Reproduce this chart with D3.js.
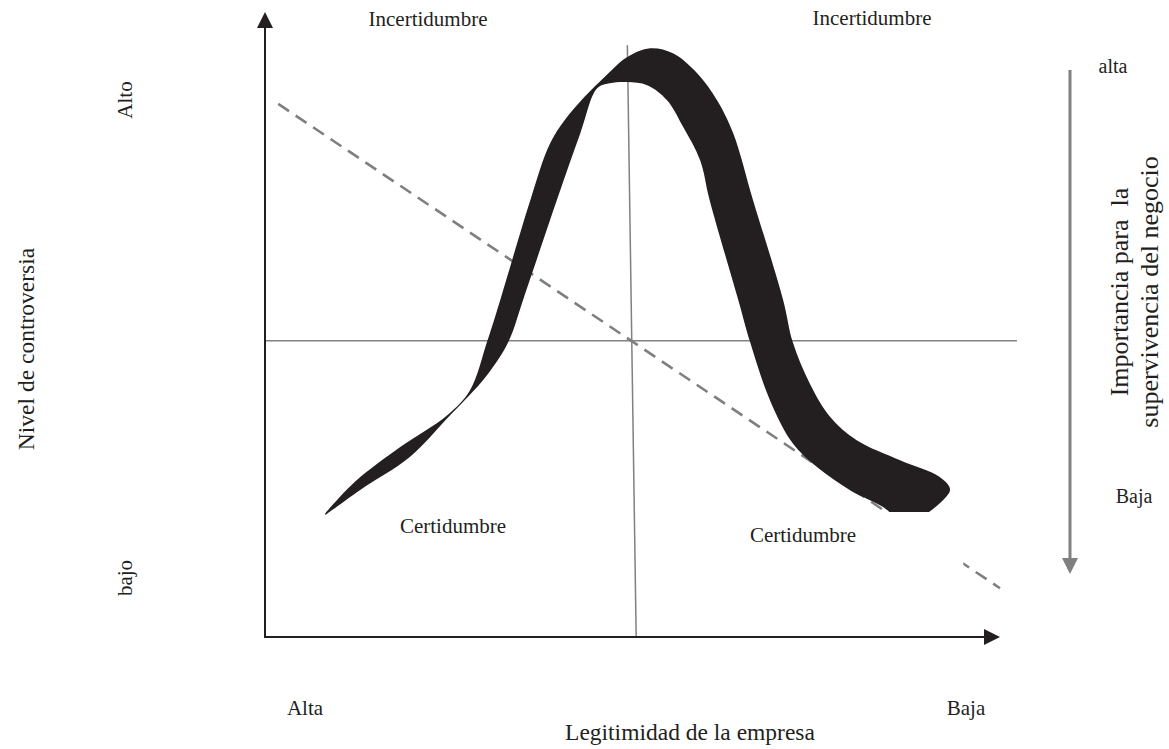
<!DOCTYPE html>
<html>
<head>
<meta charset="utf-8">
<script src="https://cdn.jsdelivr.net/npm/d3@7"></script>
<style>
  body { margin: 0; background: #fff; }
  text { font-family: "Liberation Serif", "Times New Roman", serif; fill: #231f20; }
</style>
</head>
<body>
<script>
// curve band, [legitimidad, controversia] in 0-100 units
var bandUpper = [
    [8.2, 19.8], [12.2, 24.8], [18.4, 30.4], [24.8, 35.5], [27.9, 39.5],
    [30.2, 47.2], [32.0, 53.9], [36.1, 69.9], [38.8, 79.0], [41.5, 83.8],
    [46.9, 90.4], [49.3, 92.8], [52.4, 94.2], [55.5, 93.4], [58.8, 90.2],
    [61.5, 85.9], [63.7, 80.6], [66.4, 69.9], [70.5, 53.9], [71.8, 47.2],
    [74.1, 40.6], [76.9, 35.2], [80.5, 31.5], [86.4, 28.3], [91.8, 25.6],
    [93.2, 23.5], [89.8, 19.5]
];
var bandLower = [
    [8.2, 19.5], [12.9, 23.5], [19.7, 28.8], [24.8, 35.0], [30.2, 41.9],
    [33.1, 47.2], [35.1, 53.9], [39.7, 69.9], [42.9, 80.6], [45.2, 87.8],
    [46.9, 88.6], [49.3, 88.8], [52.0, 88.3], [54.7, 85.9], [56.9, 81.6],
    [59.2, 76.3], [60.5, 69.9], [64.4, 53.9], [66.0, 47.2], [68.7, 37.9],
    [71.8, 31.0], [75.1, 27.2], [79.6, 23.5], [84.1, 20.8], [85.4, 19.5]
];
var trendLine = [[1.8, 85.3], [100, 7.8]];
var hLine = [[0, 47.4], [102.3, 47.4]];
var vLine = [[49.3, 94.7], [50.5, 0]];

var xEndLabels = ["Alta", "Baja"];
var yEndLabels = ["bajo", "Alto"];
var zoneLabels = ["Incertidumbre", "Incertidumbre", "Certidumbre", "Certidumbre"];
var importanceLabels = ["alta", "Baja"];
var importanceTitle = ["Importancia para  la", "supervivencia del negocio"];

var width = 1169, height = 749;

var svg = d3.select("body").append("svg")
    .attr("width", width)
    .attr("height", height);

var x = d3.scaleLinear().domain([0, 100]).range([265, 1000]);
var y = d3.scaleLinear().domain([0, 100]).range([637, 12]);

var line = d3.line()
    .x(function(d) { return x(d[0]); })
    .y(function(d) { return y(d[1]); });

// gray guide lines
svg.append("path").attr("d", line(hLine))
    .attr("stroke", "#808080").attr("stroke-width", 1.5).attr("fill", "none");
svg.append("path").attr("d", line(vLine))
    .attr("stroke", "#808080").attr("stroke-width", 1.5).attr("fill", "none");

// dashed trend
svg.append("path").attr("d", line(trendLine))
    .attr("stroke", "#7f7f7f").attr("stroke-width", 2.6)
    .attr("stroke-dasharray", "13,8").attr("fill", "none");

// the band
var curve = d3.line()
    .x(function(d) { return x(d[0]); })
    .y(function(d) { return y(d[1]); })
    .curve(d3.curveCatmullRom.alpha(0.5));
var up = curve(bandUpper);
var low = curve(bandLower.slice().reverse());
svg.append("path")
    .attr("d", up + "L" + low.slice(1) + "Z")
    .attr("fill", "#231f20");

// white label box (hides the line under the right "Certidumbre")
svg.append("rect")
    .attr("x", x(59.2)).attr("y", y(20))
    .attr("width", x(95) - x(59.2)).attr("height", y(10.7) - y(20))
    .attr("fill", "#fff");

// axes with arrow heads
svg.append("line")
    .attr("x1", x(0)).attr("y1", y(0)).attr("x2", x(0)).attr("y2", y(100) + 14)
    .attr("stroke", "#231f20").attr("stroke-width", 2);
svg.append("path")
    .attr("d", "M" + x(0) + "," + y(100) + "l-8,16h16z")
    .attr("fill", "#231f20");
svg.append("line")
    .attr("x1", x(0) - 1).attr("y1", y(0)).attr("x2", x(100) - 14).attr("y2", y(0))
    .attr("stroke", "#231f20").attr("stroke-width", 2);
svg.append("path")
    .attr("d", "M" + x(100) + "," + y(0) + "l-16,-8v16z")
    .attr("fill", "#231f20");

// importance arrow on the right
svg.append("line")
    .attr("x1", 1070).attr("y1", 70).attr("x2", 1070).attr("y2", 560)
    .attr("stroke", "#808080").attr("stroke-width", 3);
svg.append("path")
    .attr("d", "M1070,574l-8,-16h16z")
    .attr("fill", "#808080");

// zone labels
var zonePos = [[428, 26], [872, 25], [453, 533], [803, 542]];
svg.selectAll(".zone")
    .data(zoneLabels)
    .enter().append("text")
    .attr("class", "zone")
    .attr("x", function(d, i) { return zonePos[i][0]; })
    .attr("y", function(d, i) { return zonePos[i][1]; })
    .attr("text-anchor", "middle")
    .style("font-size", "21px")
    .text(function(d) { return d; });

// x end labels
svg.selectAll(".xend")
    .data(xEndLabels)
    .enter().append("text")
    .attr("class", "xend")
    .attr("x", function(d, i) { return i == 0 ? 305 : 966; })
    .attr("y", 715)
    .attr("text-anchor", "middle")
    .style("font-size", "21px")
    .text(function(d) { return d; });

svg.append("text")
    .attr("x", 690).attr("y", 740)
    .attr("text-anchor", "middle")
    .style("font-size", "23.5px")
    .text("Legitimidad de la empresa");

// y end labels
svg.selectAll(".yend")
    .data(yEndLabels)
    .enter().append("text")
    .attr("class", "yend")
    .attr("transform", function(d, i) {
        return "translate(132," + (i == 0 ? 578 : 100) + ") rotate(-90)";
    })
    .attr("text-anchor", "middle")
    .style("font-size", "21px")
    .text(function(d) { return d; });

svg.append("text")
    .attr("transform", "translate(34,349) rotate(-90)")
    .attr("text-anchor", "middle")
    .style("font-size", "23.5px")
    .text("Nivel de controversia");

// importance labels
svg.append("text")
    .attr("x", 1113).attr("y", 73)
    .attr("text-anchor", "middle")
    .style("font-size", "20px")
    .text(importanceLabels[0]);
svg.append("text")
    .attr("x", 1134).attr("y", 503)
    .attr("text-anchor", "middle")
    .style("font-size", "20px")
    .text(importanceLabels[1]);

svg.selectAll(".imp")
    .data(importanceTitle)
    .enter().append("text")
    .attr("class", "imp")
    .attr("transform", function(d, i) {
        return "translate(" + (1128 + i * 30) + ",292) rotate(-90)";
    })
    .attr("text-anchor", "middle")
    .style("font-size", "26px")
    .style("white-space", "pre")
    .text(function(d) { return d; });
</script>
</body>
</html>
